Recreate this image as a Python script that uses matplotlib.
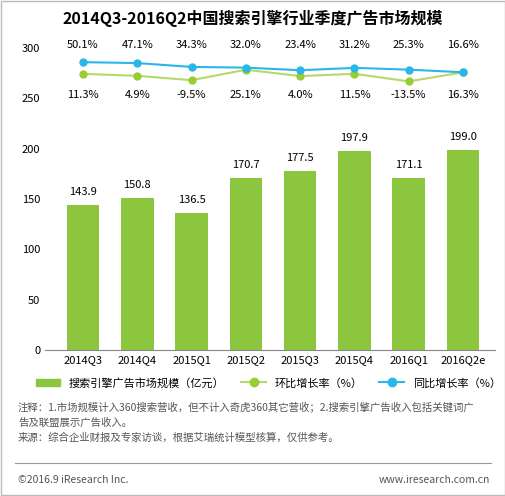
import matplotlib
matplotlib.use("Agg")
import matplotlib.pyplot as plt
from matplotlib.lines import Line2D
from matplotlib.patches import Patch, Rectangle

plt.rcParams['font.family'] = ['Noto Sans CJK SC', 'DejaVu Sans']

quarters = ['2014Q3', '2014Q4', '2015Q1', '2015Q2', '2015Q3', '2015Q4', '2016Q1', '2016Q2e']
market = [143.9, 150.8, 136.5, 170.7, 177.5, 197.9, 171.1, 199.0]
qoq = [11.3, 4.9, -9.5, 25.1, 4.0, 11.5, -13.5, 16.3]
yoy = [50.1, 47.1, 34.3, 32.0, 23.4, 31.2, 25.3, 16.6]

W, H = 506, 496
fig = plt.figure(figsize=(W/100, H/100), dpi=100)
fig.patches.append(Rectangle((0.002, 0.002), 0.996, 0.996, transform=fig.transFigure,
                             fill=False, edgecolor='#bbbbbb', lw=1))
fig.text(0.5, 0.962, '2014Q3-2016Q2中国搜索引擎行业季度广告市场规模', ha='center', va='center',
         fontsize=11.5, fontweight='bold')

ax = fig.add_axes([45/W, 1-350/H, 450/W, 302/H])
x = list(range(len(quarters)))
green = '#8cc63f'
ax.bar(x, market, width=0.6, color=green)
for xi, v in zip(x, market):
    ax.text(xi, v + 8, f'{v:.1f}', ha='center', va='bottom', fontsize=8)
ax.set_ylim(0, 300)
ax.set_xlim(-0.7, 7.59)
ax.set_yticks(range(0, 301, 50))
ax.set_xticks(x)
ax.set_xticklabels(quarters, fontsize=8)
ax.tick_params(axis='y', labelsize=8, length=0)
ax.tick_params(axis='x', length=0)
for s in ['top', 'right', 'left']:
    ax.spines[s].set_visible(False)
ax.spines['bottom'].set_color('#888888')

ax2 = ax.twinx()
ax2.set_ylim(-903, 97)
ax2.axis('off')
ax2.plot(x, qoq, color='#b5d96b', lw=1.5, marker='o', ms=5, mfc='#9acd32', mec='#9acd32')
ax2.plot(x, yoy, color='#29b6e8', lw=1.5, marker='o', ms=5, mfc='#29b6e8', mec='#29b6e8')
for xi, a, b in zip(x, qoq, yoy):
    ax2.text(xi, 107, f'{b:.1f}%', ha='center', va='center', fontsize=8, clip_on=False)
    ax2.text(xi, -60, f'{a:.1f}%', ha='center', va='center', fontsize=8)

handles = [Patch(color=green, label='搜索引擎广告市场规模（亿元）'),
           Line2D([], [], color='#b5d96b', marker='o', mfc='#9acd32', mec='#9acd32', label='环比增长率（%）'),
           Line2D([], [], color='#29b6e8', marker='o', label='同比增长率（%）')]
fig.legend(handles=handles, loc='center', bbox_to_anchor=(0.53, 1-383/H), ncol=3,
           frameon=False, fontsize=8, handlelength=2.2, columnspacing=1.5)

notes = ('注释：1.市场规模计入360搜索营收，但不计入奇虎360其它营收；2.搜索引擎广告收入包括关键词广\n'
         '告及联盟展示广告收入。\n来源：综合企业财报及专家访谈，根据艾瑞统计模型核算，仅供参考。')
fig.text(18/W, 1-422/H, notes, ha='left', va='center', fontsize=7.5, color='#555555', linespacing=1.6)
fig.add_artist(Line2D([15/W, 491/W], [1-463/H, 1-463/H], color='#999999', lw=0.8))
fig.text(18/W, 1-480/H, '©2016.9 iResearch Inc.', fontsize=7.5, color='#555555', va='center')
fig.text(490/W, 1-480/H, 'www.iresearch.com.cn', fontsize=7.5, color='#555555', va='center', ha='right')

fig.savefig('out.png', dpi=100)
